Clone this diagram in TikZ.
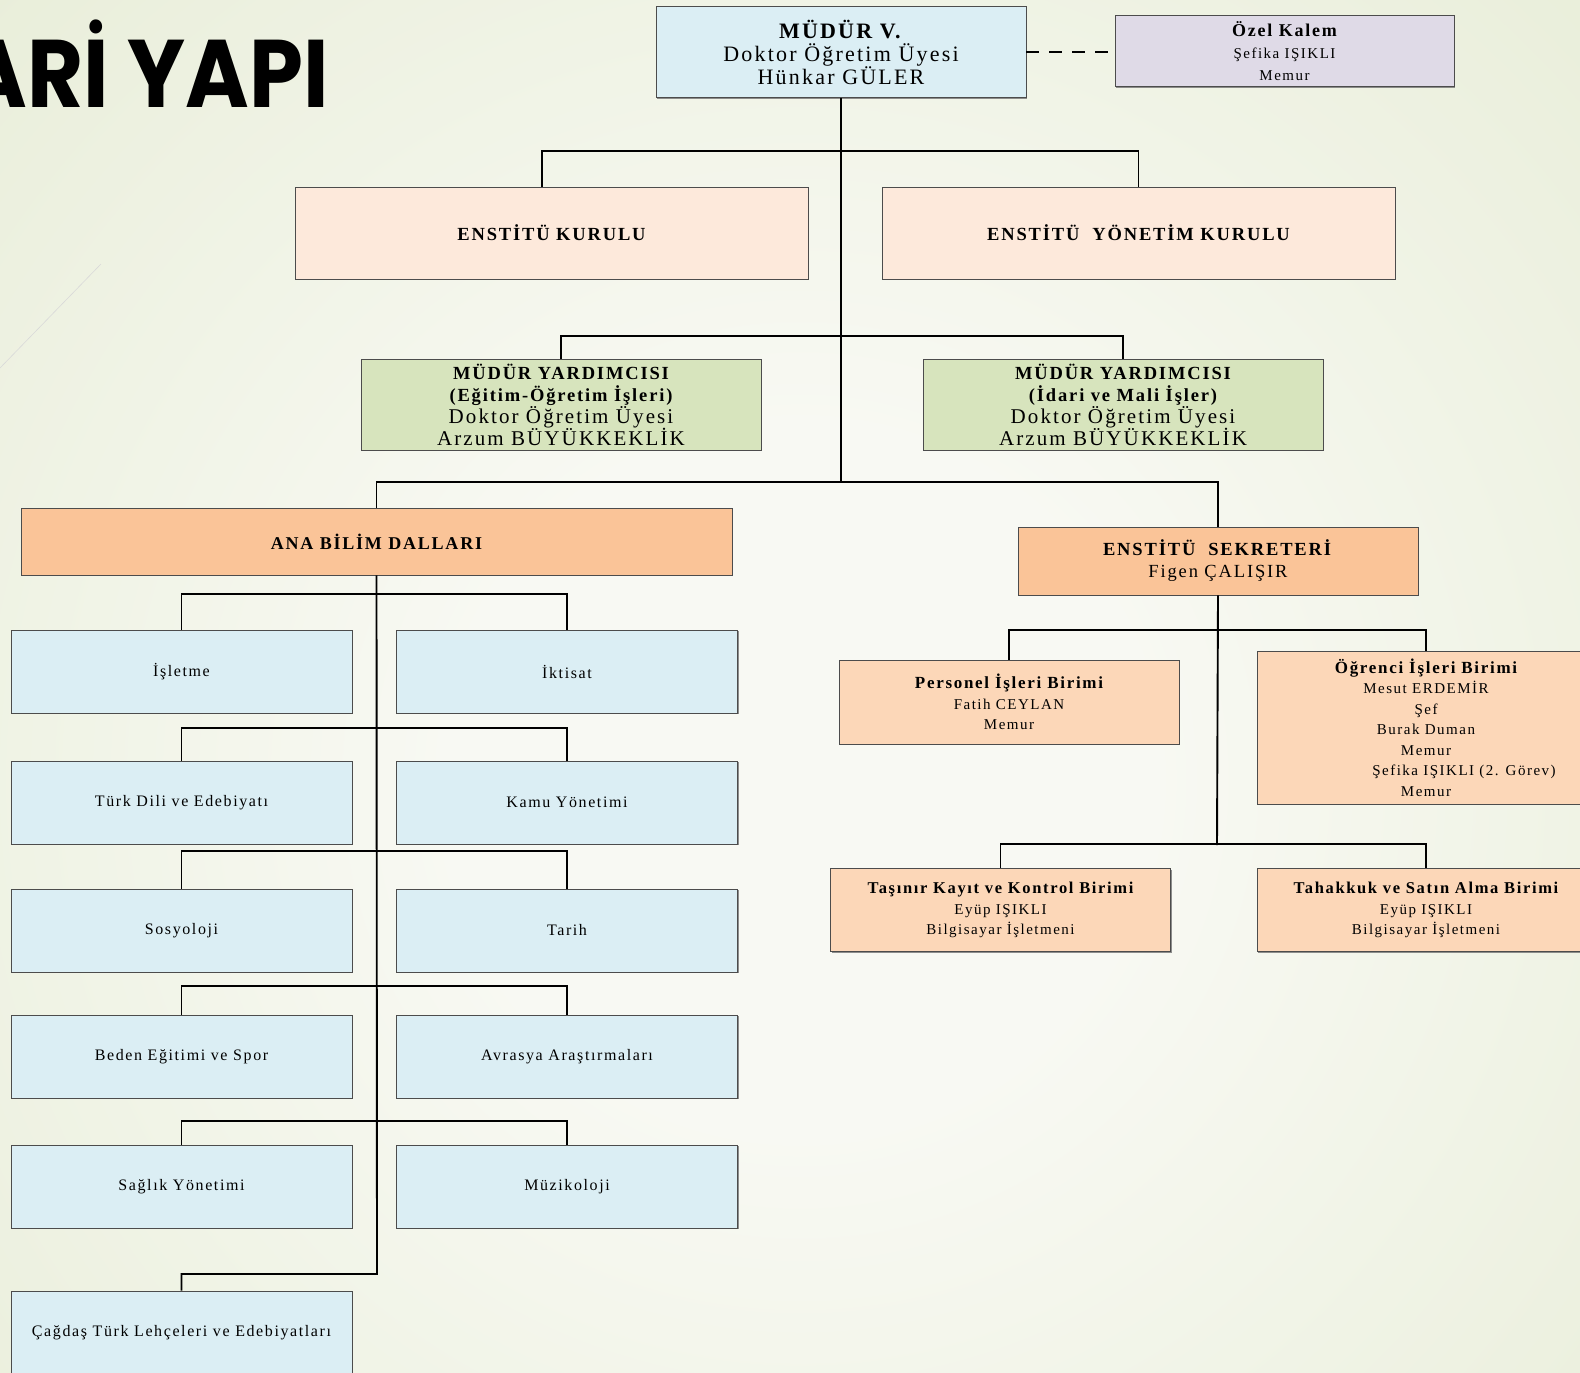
\documentclass[tikz,border=0pt]{standalone}
\usepackage{fontspec}
\setmainfont{Liberation Serif}[LetterSpace=10]
\newfontfamily\titlefont{Poppins}[FakeStretch=0.9]
\usepackage{tikz}
\usetikzlibrary{positioning,calc,shadows}

\definecolor{bgin}{HTML}{F8F9F3}
\definecolor{bgout}{HTML}{E2E9CE}
\definecolor{headblue}{HTML}{DBEEF4}
\definecolor{lilac}{HTML}{DFDAE7}
\definecolor{peach}{HTML}{FDE9DB}
\definecolor{sage}{HTML}{D7E4BD}
\definecolor{apricot}{HTML}{FAC498}
\definecolor{unitorange}{HTML}{FCD7B8}

\pgfdeclareradialshading{bgglow}{\pgfpoint{0bp}{0bp}}{color(0bp)=(bgin); color(7bp)=(bgin); color(30bp)=(bgout); color(50bp)=(bgout)}

\begin{document}
\begin{tikzpicture}[
  x=1pt, y=-1pt,
  box/.style={draw=black!70, line width=0.9pt, align=center, inner sep=0pt,
              drop shadow={shadow xshift=1.4pt, shadow yshift=-1.4pt, fill=black!55, opacity=0.8}},
  link/.style={line width=1.9pt, black},
  dept/.style={box, fill=headblue, minimum width=341, minimum height=83,
               font=\fontsize{16}{20}\selectfont},
  unit/.style={box, fill=unitorange, minimum width=340, minimum height=83,
               font=\fontsize{15}{20.5}\selectfont},
  boardbox/.style={box, fill=peach, minimum width=513, minimum height=92,
               font=\fontsize{18.5}{22}\selectfont\bfseries},
  deputy/.style={box, fill=sage, minimum width=400, minimum height=91,
               font=\fontsize{21}{22}\selectfont}
]
\useasboundingbox (0,0) rectangle (1580,1373);

% --- Background ---
\fill[bgout] (0,0) rectangle (1580,1373);
\begin{scope}
  \clip (0,0) rectangle (1580,1373);
  \shade[shading=bgglow] (800,780) circle (1250);
\end{scope}
\draw[line width=0.6pt, black!15] (0,368) -- (101,264);

% --- Title (cut at the page edge) ---
\node[font=\titlefont\bfseries\fontsize{96}{96}\selectfont, anchor=base east, inner sep=0pt]
  (title) at (329,107) {ARİ YAPI};

% --- Head ---
\node[box, fill=headblue, minimum width=370, minimum height=91,
      font=\fontsize{22}{23}\selectfont] (mudur) at (841,52)
  {\textbf{MÜDÜR V.}\\Doktor Öğretim Üyesi\\Hünkar GÜLER};
\node[box, fill=lilac, minimum width=339, minimum height=71,
      font=\fontsize{15}{22}\selectfont] (ozel) at (1284.5,51)
  {{\fontsize{18}{22}\selectfont\bfseries Özel Kalem}\\Şefika IŞIKLI\\Memur};

% --- Boards ---
\node[boardbox] (kurul) at (551.5,233) {ENSTİTÜ KURULU};
\node[boardbox] (yonetim) at (1138.5,233) {ENSTİTÜ\ \ YÖNETİM KURULU};

% --- Deputies ---
\node[deputy] (my1) at (561,404.5)
  {{\fontsize{18.5}{22}\selectfont\bfseries MÜDÜR YARDIMCISI}\\
   {\fontsize{18.5}{22}\selectfont\bfseries (Eğitim-Öğretim İşleri)}\\
   Doktor Öğretim Üyesi\\Arzum BÜYÜKKEKLİK};
\node[deputy] (my2) at (1123,404.5)
  {{\fontsize{18.5}{22}\selectfont\bfseries MÜDÜR YARDIMCISI}\\
   {\fontsize{18.5}{22}\selectfont\bfseries (İdari ve Mali İşler)}\\
   Doktor Öğretim Üyesi\\Arzum BÜYÜKKEKLİK};

% --- Second level ---
\node[box, fill=apricot, minimum width=711, minimum height=67,
      font=\fontsize{18}{22}\selectfont\bfseries] (ana) at (376.5,541.5)
  {ANA BİLİM DALLARI};
\node[box, fill=apricot, minimum width=400, minimum height=68,
      font=\fontsize{18.5}{22}\selectfont] (sekr) at (1218,561)
  {\textbf{ENSTİTÜ\ \ SEKRETERİ}\\Figen ÇALIŞIR};

% --- Departments ---
\node[dept] (isletme)  at (181.5,671.5)  {İşletme};
\node[dept] (iktisat)  at (567,671.5)    {İktisat};
\node[dept] (turkdili) at (181.5,802.5)  {Türk Dili ve Edebiyatı};
\node[dept] (kamu)     at (567,802.5)    {Kamu Yönetimi};
\node[dept] (sosyo)    at (181.5,930.5)  {Sosyoloji};
\node[dept] (tarih)    at (567,930.5)    {Tarih};
\node[dept] (beden)    at (181.5,1056.5) {Beden Eğitimi ve Spor};
\node[dept] (avrasya)  at (567,1056.5)   {Avrasya Araştırmaları};
\node[dept] (saglik)   at (181.5,1186.5) {Sağlık Yönetimi};
\node[dept] (muzik)    at (567,1186.5)   {Müzikoloji};
\node[dept] (cagdas)   at (181.5,1332.5) {Çağdaş Türk Lehçeleri ve Edebiyatları};

% --- Units ---
\node[unit, minimum height=84] (personel) at (1009,702)
  {{\fontsize{17}{20.5}\selectfont\bfseries Personel İşleri Birimi}\\Fatih CEYLAN\\Memur};
\node[unit, minimum width=338, minimum height=153] (ogrenci) at (1426,727.5)
  {{\fontsize{17}{20.5}\selectfont\bfseries Öğrenci İşleri Birimi}\\Mesut ERDEMİR\\Şef\\
   Burak Duman\\Memur\\\hspace*{76pt}Şefika IŞIKLI (2. Görev)\\Memur};
\node[unit] (tasinir) at (1000.5,910)
  {{\fontsize{16.5}{20.5}\selectfont\bfseries Taşınır Kayıt ve Kontrol Birimi}\\Eyüp IŞIKLI\\Bilgisayar İşletmeni};
\node[unit, minimum width=338] (tahakkuk) at (1426,910)
  {{\fontsize{16.5}{20.5}\selectfont\bfseries Tahakkuk ve Satın Alma Birimi}\\Eyüp IŞIKLI\\Bilgisayar İşletmeni};

% --- Connectors ---
\coordinate (hub1) at (841,151);
\coordinate (hub2) at (841,336);
\coordinate (hub3) at (841,482);
\coordinate (anaend) at (377,1274);
\coordinate (sekrend) at (1217,845);

\draw[link, dash pattern=on 13pt off 10pt] (mudur.east) -- (mudur.east -| ozel.west);
\draw[link] (mudur.south) -- (hub3);
\draw[link] ([xshift=-9.5pt]kurul.north) |- (hub1) -| (yonetim.north);
\draw[link] (my1.north) |- (hub2) -| (my2.north);
\draw[link] (ana.north) |- (hub3) -| (sekr.north);

\draw[link] (ana.south) -- (anaend) -| (cagdas.north);
\foreach \l/\r/\gap in {isletme/iktisat/36, turkdili/kamu/33, sosyo/tarih/38,
                        beden/avrasya/29, saglik/muzik/24}
  \draw[link] (\l.north) -- ++(0,-\gap) -| (\r.north);

\draw[link] (sekr.south) -- (sekrend);
\draw[link] (personel.north) -- ++(0,-30) -| (ogrenci.north);
\draw[link] (tasinir.north) -- ++(0,-24) -| (tahakkuk.north);

\end{tikzpicture}
\end{document}
